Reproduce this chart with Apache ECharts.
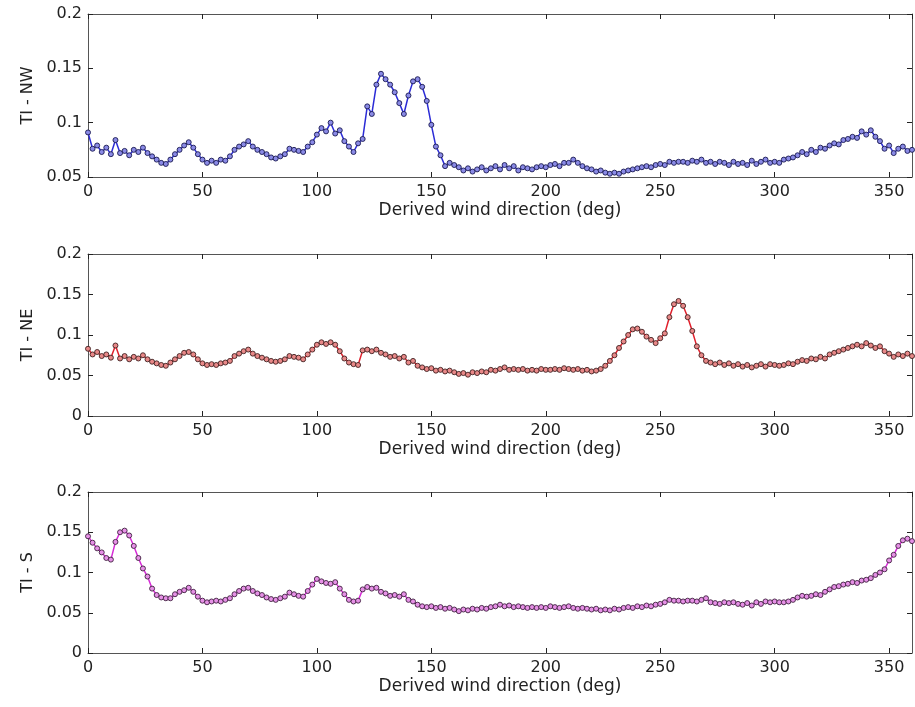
<!DOCTYPE html>
<html>
<head>
<meta charset="utf-8">
<script src="https://cdn.jsdelivr.net/npm/echarts@6/dist/echarts.min.js"></script>
<style>
html,body{margin:0;padding:0;background:#fff;}
#c{width:915px;height:707px;}
</style>
</head>
<body>
<div id="c"></div>
<script>
// Derived wind direction (deg), 2-degree grid
const angles = [0,2,4,6,8,10,12,14,16,18,20,22,24,26,28,30,32,34,36,38,40,42,44,46,48,50,52,54,56,58,60,62,64,66,68,70,72,74,76,78,80,82,84,86,88,90,92,94,96,98,100,102,104,106,108,110,112,114,116,118,120,122,124,126,128,130,132,134,136,138,140,142,144,146,148,150,152,154,156,158,160,162,164,166,168,170,172,174,176,178,180,182,184,186,188,190,192,194,196,198,200,202,204,206,208,210,212,214,216,218,220,222,224,226,228,230,232,234,236,238,240,242,244,246,248,250,252,254,256,258,260,262,264,266,268,270,272,274,276,278,280,282,284,286,288,290,292,294,296,298,300,302,304,306,308,310,312,314,316,318,320,322,324,326,328,330,332,334,336,338,340,342,344,346,348,350,352,354,356,358,360];

const tiNW = [0.091,0.076,0.079,0.073,0.077,0.071,0.084,0.072,0.074,0.070,0.075,0.073,0.077,0.072,0.069,0.066,0.063,0.062,0.066,0.071,0.075,0.079,0.082,0.077,0.071,0.066,0.063,0.065,0.063,0.066,0.065,0.069,0.075,0.078,0.080,0.083,0.078,0.075,0.073,0.071,0.068,0.067,0.069,0.071,0.076,0.075,0.074,0.073,0.078,0.082,0.089,0.095,0.092,0.100,0.090,0.093,0.083,0.078,0.073,0.081,0.085,0.115,0.108,0.135,0.145,0.140,0.135,0.128,0.118,0.108,0.125,0.138,0.140,0.133,0.120,0.098,0.078,0.070,0.060,0.063,0.061,0.059,0.056,0.058,0.055,0.057,0.059,0.056,0.058,0.060,0.057,0.061,0.058,0.060,0.056,0.059,0.058,0.057,0.059,0.060,0.059,0.061,0.062,0.060,0.063,0.063,0.066,0.063,0.060,0.058,0.057,0.055,0.056,0.054,0.053,0.054,0.053,0.055,0.056,0.057,0.058,0.059,0.060,0.059,0.061,0.062,0.061,0.064,0.063,0.064,0.064,0.063,0.065,0.064,0.066,0.063,0.064,0.062,0.064,0.063,0.061,0.064,0.062,0.063,0.061,0.065,0.062,0.064,0.066,0.063,0.064,0.063,0.066,0.067,0.068,0.070,0.073,0.071,0.075,0.073,0.077,0.076,0.079,0.081,0.080,0.084,0.085,0.087,0.086,0.092,0.089,0.093,0.087,0.083,0.076,0.079,0.072,0.076,0.078,0.074,0.075];

const tiNE = [0.083,0.076,0.079,0.074,0.076,0.072,0.087,0.071,0.074,0.070,0.073,0.071,0.075,0.070,0.067,0.065,0.063,0.062,0.066,0.070,0.074,0.078,0.079,0.076,0.070,0.065,0.063,0.064,0.063,0.065,0.066,0.068,0.074,0.077,0.080,0.082,0.077,0.074,0.072,0.070,0.068,0.067,0.068,0.070,0.074,0.073,0.072,0.070,0.076,0.082,0.088,0.091,0.089,0.091,0.088,0.080,0.071,0.066,0.064,0.063,0.081,0.082,0.080,0.082,0.078,0.076,0.073,0.074,0.071,0.073,0.066,0.068,0.062,0.060,0.058,0.059,0.056,0.057,0.055,0.056,0.054,0.052,0.053,0.051,0.054,0.053,0.055,0.054,0.057,0.056,0.058,0.060,0.057,0.058,0.057,0.058,0.056,0.057,0.056,0.058,0.057,0.057,0.058,0.057,0.059,0.058,0.057,0.058,0.056,0.057,0.055,0.056,0.058,0.062,0.068,0.075,0.084,0.092,0.100,0.107,0.108,0.104,0.098,0.094,0.090,0.096,0.102,0.122,0.138,0.142,0.136,0.122,0.105,0.086,0.075,0.068,0.066,0.064,0.066,0.063,0.065,0.062,0.064,0.061,0.063,0.060,0.062,0.064,0.061,0.064,0.063,0.062,0.063,0.065,0.064,0.067,0.069,0.068,0.071,0.070,0.073,0.071,0.076,0.078,0.080,0.082,0.084,0.086,0.088,0.086,0.090,0.087,0.084,0.086,0.080,0.077,0.073,0.076,0.074,0.077,0.074];

const tiS = [0.145,0.137,0.130,0.125,0.118,0.116,0.138,0.150,0.152,0.146,0.133,0.118,0.105,0.095,0.080,0.072,0.069,0.068,0.068,0.073,0.076,0.078,0.081,0.076,0.070,0.065,0.063,0.064,0.065,0.064,0.066,0.068,0.073,0.077,0.080,0.081,0.077,0.074,0.072,0.069,0.067,0.066,0.068,0.070,0.075,0.073,0.071,0.070,0.077,0.085,0.092,0.089,0.087,0.086,0.088,0.080,0.073,0.066,0.064,0.065,0.079,0.082,0.080,0.081,0.076,0.074,0.071,0.072,0.070,0.073,0.066,0.064,0.060,0.058,0.057,0.058,0.056,0.057,0.055,0.056,0.054,0.052,0.054,0.053,0.055,0.054,0.056,0.055,0.057,0.058,0.060,0.058,0.059,0.057,0.058,0.057,0.056,0.057,0.056,0.057,0.056,0.058,0.057,0.056,0.057,0.058,0.056,0.055,0.056,0.055,0.054,0.055,0.053,0.054,0.053,0.055,0.054,0.056,0.057,0.056,0.058,0.057,0.059,0.058,0.060,0.061,0.063,0.066,0.065,0.065,0.064,0.065,0.065,0.064,0.066,0.068,0.063,0.062,0.061,0.063,0.062,0.063,0.061,0.060,0.062,0.059,0.063,0.061,0.064,0.063,0.064,0.063,0.063,0.064,0.066,0.069,0.071,0.070,0.071,0.073,0.072,0.076,0.079,0.082,0.083,0.085,0.086,0.088,0.087,0.090,0.091,0.093,0.097,0.100,0.104,0.115,0.122,0.133,0.140,0.142,0.139];

const xTicks = [0,50,100,150,200,250,300,350];
const yNames = ['TI - NW','TI - NE','TI - S'];
const xName = 'Derived wind direction (deg)';
const yMins = [0.05, 0, 0];
const yMax = 0.2;
const yStep = 0.05;

const panels = [
  {vals: tiNW, line: '#2b2bd6', fill: '#8a8ae6', edge: '#1a1a50'},
  {vals: tiNE, line: '#e0202c', fill: '#e88888', edge: '#402020'},
  {vals: tiS,  line: '#d62ad6', fill: '#e690e6', edge: '#402040'}
];
const grids = [
  {left: 88, width: 824, top: 14, height: 163},
  {left: 88, width: 824, top: 254, height: 162},
  {left: 88, width: 824, top: 492, height: 161}
];

const font = 'DejaVu Sans, Liberation Sans, Arial, sans-serif';
const axisCol = '#555';
const fmtY = v => String(+v.toFixed(3));

const option = {animation: false, backgroundColor: '#fff', grid: [], xAxis: [], yAxis: [], series: []};

panels.forEach((p, i) => {
  option.grid.push(Object.assign({containLabel: false}, grids[i]));
  const common = {
    axisLine: {show: true, onZero: false, lineStyle: {color: axisCol, width: 1}},
    axisTick: {show: true, inside: true, length: 5, lineStyle: {color: '#222', width: 1}},
    splitLine: {show: false}
  };
  option.xAxis.push(Object.assign({}, common, {
    type: 'value', gridIndex: i, min: 0, max: 360, interval: 50, position: 'bottom',
    name: xName, nameLocation: 'middle', nameGap: 25,
    nameTextStyle: {fontFamily: font, fontSize: 17, color: '#222'},
    axisLabel: {fontFamily: font, fontSize: 16, color: '#222', margin: 7,
      showMaxLabel: false,
      formatter: v => xTicks.indexOf(v) >= 0 ? String(v) : ''}
  }));
  option.xAxis.push(Object.assign({}, common, {
    type: 'value', gridIndex: i, min: 0, max: 360, interval: 50, position: 'top',
    axisLabel: {show: false}
  }));
  option.yAxis.push(Object.assign({}, common, {
    type: 'value', gridIndex: i, min: yMins[i], max: yMax, interval: yStep, position: 'left',
    name: yNames[i], nameLocation: 'middle', nameGap: 51, nameRotate: 90,
    nameTextStyle: {fontFamily: font, fontSize: 16, color: '#222'},
    axisLabel: {fontFamily: font, fontSize: 16, color: '#222', margin: 6, formatter: fmtY}
  }));
  option.yAxis.push(Object.assign({}, common, {
    type: 'value', gridIndex: i, min: yMins[i], max: yMax, interval: yStep, position: 'right',
    axisLabel: {show: false}
  }));
  option.series.push({
    type: 'line', xAxisIndex: 2 * i, yAxisIndex: 2 * i,
    data: angles.map((a, k) => [a, p.vals[k]]),
    showSymbol: true, symbol: 'circle', symbolSize: 5,
    lineStyle: {color: p.line, width: 1.5},
    itemStyle: {color: p.fill, borderColor: p.edge, borderWidth: 0.9},
    emphasis: {disabled: true}, silent: true
  });
});

const chart = echarts.init(document.getElementById('c'), null, {renderer: 'canvas'});
chart.setOption(option);
</script>
</body>
</html>
